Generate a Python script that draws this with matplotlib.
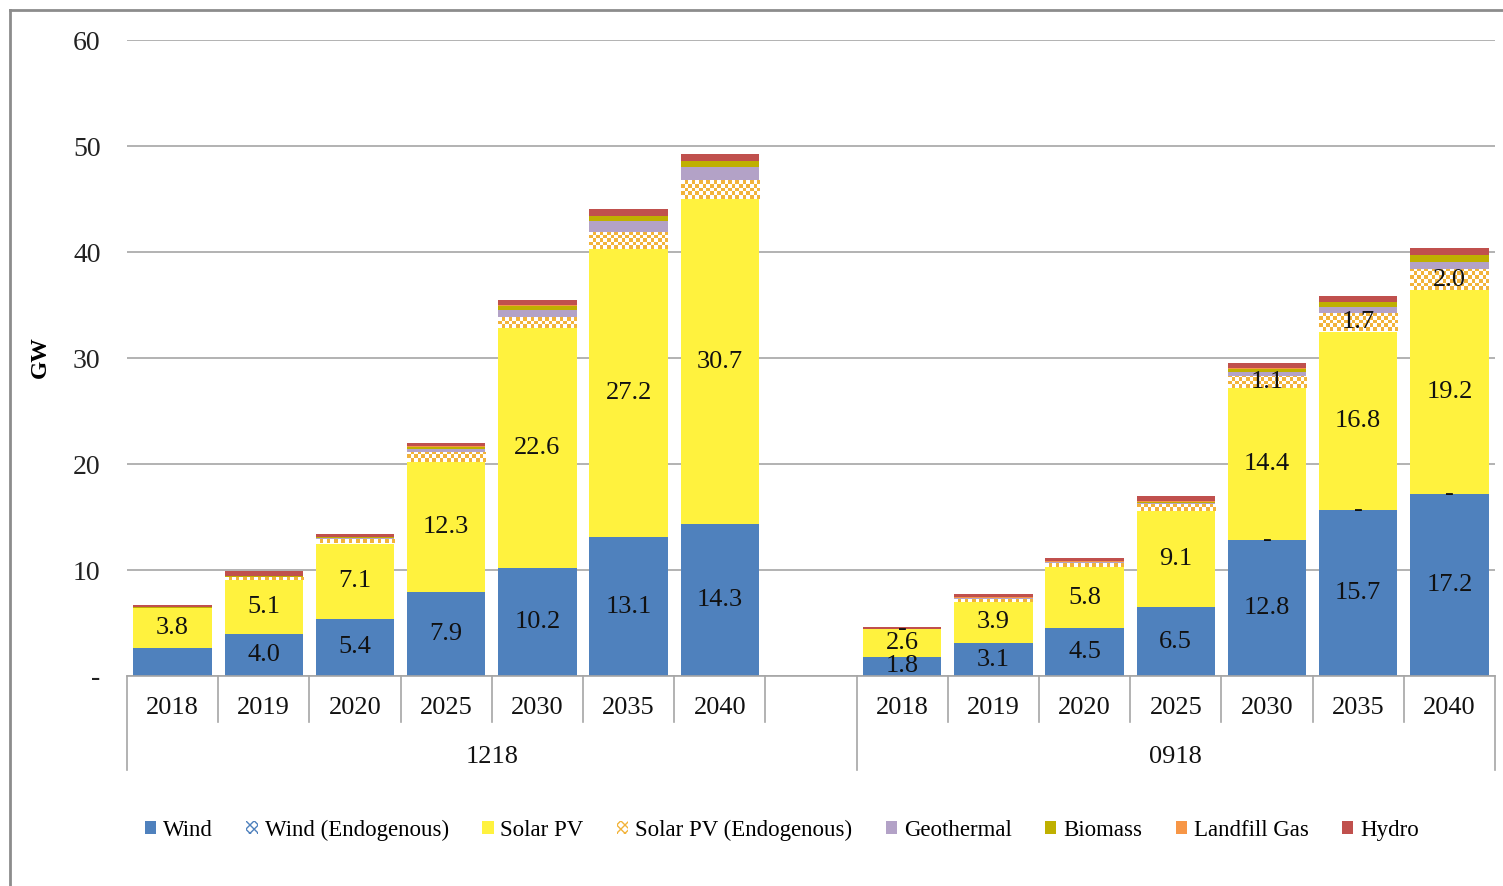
import matplotlib
matplotlib.use('Agg')
import numpy as np
import matplotlib.pyplot as plt
from matplotlib.patches import Patch
from matplotlib.lines import Line2D
import matplotlib.transforms as mtrans

plt.rcParams['font.family'] = ['Liberation Serif', 'DejaVu Serif']

# ---------------- data ----------------
years = ['2018', '2019', '2020', '2025', '2030', '2035', '2040']
groups = ['1218', '0918']

wind_1218 = [2.6, 4.0, 5.4, 7.9, 10.2, 13.1, 14.3]
wind_0918 = [1.8, 3.1, 4.5, 6.5, 12.8, 15.7, 17.2]
wind_endo_1218 = [0, 0, 0, 0, 0, 0, 0]
wind_endo_0918 = [0, 0, 0, 0, 0, 0, 0]
solar_1218 = [3.8, 5.1, 7.1, 12.3, 22.6, 27.2, 30.7]
solar_0918 = [2.6, 3.9, 5.8, 9.1, 14.4, 16.8, 19.2]
solar_endo_1218 = [0.0, 0.2, 0.4, 0.9, 1.1, 1.6, 1.8]
solar_endo_0918 = [0.0, 0.3, 0.4, 0.6, 1.1, 1.7, 2.0]
geo_1218 = [0.05, 0.05, 0.1, 0.3, 0.65, 1.0, 1.2]
geo_0918 = [0.0, 0.05, 0.05, 0.1, 0.4, 0.6, 0.7]
bio_1218 = [0.05, 0.1, 0.1, 0.25, 0.4, 0.5, 0.55]
bio_0918 = [0.0, 0.05, 0.05, 0.15, 0.3, 0.5, 0.6]
lfg_1218 = [0.0, 0.02, 0.02, 0.03, 0.03, 0.03, 0.03]
lfg_0918 = [0.0, 0.02, 0.02, 0.03, 0.03, 0.03, 0.03]
hydro_1218 = [0.2, 0.45, 0.3, 0.3, 0.45, 0.6, 0.7]
hydro_0918 = [0.2, 0.3, 0.35, 0.5, 0.5, 0.55, 0.65]

# which segments carry a data label (as in the original)
lab_wind_1218 = [False, True, True, True, True, True, True]
lab_wind_0918 = [True] * 7
lab_wind_endo_0918 = [False, False, False, False, True, True, True]
lab_solar_1218 = [True] * 7
lab_solar_0918 = [True] * 7
lab_solar_endo_0918 = [True, False, False, False, True, True, True]

series_names = ['Wind', 'Wind (Endogenous)', 'Solar PV', 'Solar PV (Endogenous)',
                'Geothermal', 'Biomass', 'Landfill Gas', 'Hydro']
colors = ['#4F81BD', '#4F81BD', '#FFF23E', '#F2B33A',
          '#B3A2C7', '#BFB000', '#F79646', '#C0504D']
checkered = [False, True, False, True, False, False, False, False]

vals = [wind_1218 + wind_0918, wind_endo_1218 + wind_endo_0918,
        solar_1218 + solar_0918, solar_endo_1218 + solar_endo_0918,
        geo_1218 + geo_0918, bio_1218 + bio_0918, lfg_1218 + lfg_0918,
        hydro_1218 + hydro_0918]
no = [False] * 7
labels_on = [lab_wind_1218 + lab_wind_0918, no + lab_wind_endo_0918,
             lab_solar_1218 + lab_solar_0918, no + lab_solar_endo_0918,
             no + no, no + no, no + no, no + no]

n = len(years)
x = np.concatenate([np.arange(n), np.arange(n) + n + 1]).astype(float)

FS = 19

# ---------------- figure ----------------
W, H = 1503, 886
fig = plt.figure(figsize=(W / 100, H / 100), dpi=100)
ax_l, ax_r, ax_t, ax_b = 127, 1495, 40, 676
ax = fig.add_axes([ax_l / W, 1 - ax_b / H, (ax_r - ax_l) / W, (ax_b - ax_t) / H])
ax.set_xlim(-0.5, 2 * n + 0.5)
ax.set_ylim(0, 60)

bw = 0.86
bottom = np.zeros(len(x))
endo_patches = []
for name, col, chk, v, lab in zip(series_names, colors, checkered, vals, labels_on):
    v = np.array(v, dtype=float)
    bars = ax.bar(x, v, bottom=bottom, width=bw, color=(col if not chk else '#FFFFFF'),
                  linewidth=0, zorder=2)
    if chk:
        for b in bars:
            endo_patches.append((b, col))
    for xi, bi, vi, li in zip(x, bottom, v, lab):
        if li:
            txt = '-' if vi == 0 else f'{vi:.1f}'
            ax.text(xi, bi + vi / 2, txt, ha='center', va='center', fontsize=FS,
                    color='#111111', zorder=5)
    bottom = bottom + v

# checkerboard texture for the endogenous segments
px_x = (ax_r - ax_l) / (2 * n + 1)
px_y = (ax_b - ax_t) / 60.0
cell = 3.6
for b, col in endo_patches:
    h = b.get_height()
    if h <= 0:
        continue
    x0, y0, w = b.get_x(), b.get_y(), b.get_width()
    dx, dy = cell / px_x, cell / px_y
    nx, ny = int(np.ceil(w / dx)), int(np.ceil(h / dy))
    ii, jj = np.meshgrid(np.arange(nx), np.arange(ny))
    mask = ((ii + jj) % 2).astype(bool)
    rgb = np.ones((ny, nx, 3))
    rgb[mask] = matplotlib.colors.to_rgb(col)
    im = ax.imshow(rgb, extent=(x0, x0 + nx * dx, y0, y0 + ny * dy), origin='lower',
                   interpolation='nearest', aspect='auto', zorder=3)
    im.set_clip_path(b)
ax.set_xlim(-0.5, 2 * n + 0.5)
ax.set_ylim(0, 60)

# axes styling
for s in ['left', 'right', 'top']:
    ax.spines[s].set_visible(False)
ax.spines['bottom'].set_color('#A6A6A6')
ax.spines['bottom'].set_linewidth(1.2)
ax.set_yticks(range(0, 61, 10))
ax.set_yticklabels(['-'] + [str(t) for t in range(10, 61, 10)], fontsize=20, color='#222222')
ax.tick_params(axis='y', length=0, pad=19)
ax.set_xticks([])
ax.yaxis.grid(True, color='#A6A6A6', linewidth=1.2)
ax.set_axisbelow(True)

# two-level category axis
tr = mtrans.blended_transform_factory(ax.transData, ax.transAxes)
ah = ax_b - ax_t
short_y = -46 / ah
long_y = -94 / ah
for xi, yr in zip(x, years + years):
    ax.text(xi, -32 / ah, yr, transform=tr, ha='center', va='center', fontsize=FS,
            color='#111111')
seps_short = list(np.arange(n) + 0.5) + list(np.arange(n - 1) + n + 1.5)
for s in seps_short:
    ax.add_line(Line2D([s, s], [0, short_y], transform=tr, color='#A6A6A6', lw=1.2,
                       clip_on=False))
for s in [-0.5, n + 0.5, 2 * n + 0.5]:
    ax.add_line(Line2D([s, s], [0, long_y], transform=tr, color='#A6A6A6', lw=1.2,
                       clip_on=False))
group_centers = [(-0.5 + n + 0.5) / 2, (n + 0.5 + 2 * n + 0.5) / 2]
for gc, g in zip(group_centers, groups):
    ax.text(gc, -81 / ah, g, transform=tr, ha='center', va='center', fontsize=FS,
            color='#111111')

# y-axis title
fig.text(40 / W, 1 - 357 / H, 'GW', rotation=90, ha='center', va='center',
         fontsize=17, fontweight='bold')

# legend
handles = []
for name, col, chk in zip(series_names, colors, checkered):
    if chk:
        handles.append(Patch(facecolor='white', edgecolor=col, hatch='xxxx', linewidth=0,
                             label=name))
    else:
        handles.append(Patch(facecolor=col, edgecolor='none', label=name))
fig.legend(handles=handles, loc='center', bbox_to_anchor=(782 / W, 1 - 830 / H), ncol=8,
           frameon=False, fontsize=16.5, handlelength=0.5, handleheight=0.5,
           handletextpad=0.3, columnspacing=1.45)

# outer border (left and top edges visible in the original)
fig.add_artist(Line2D([10 / W, 10 / W], [0, 1 - 10 / H], transform=fig.transFigure,
                      color='#8C8C8C', lw=2))
fig.add_artist(Line2D([10 / W, 1], [1 - 10 / H, 1 - 10 / H], transform=fig.transFigure,
                      color='#8C8C8C', lw=2))

fig.savefig('out.png', dpi=100)
